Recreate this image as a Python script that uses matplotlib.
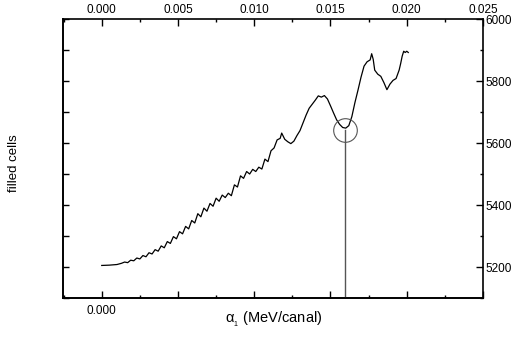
import matplotlib
matplotlib.use("Agg")
import matplotlib.pyplot as plt
from matplotlib.ticker import MultipleLocator, FuncFormatter

plt.rcParams['font.family'] = ['Liberation Sans', 'DejaVu Sans']
plt.rcParams['mathtext.fontset'] = 'custom'
plt.rcParams['mathtext.rm'] = 'Liberation Sans'
plt.rcParams['mathtext.it'] = 'Liberation Sans'

# donnees
alpha = [0.0000, 0.0005, 0.0010, 0.0013, 0.0015, 0.0017, 0.0019, 0.0021, 0.0023, 0.0025,
         0.0027, 0.0029, 0.0031, 0.0033, 0.0035, 0.0037, 0.0039, 0.0041, 0.0043, 0.0045,
         0.0047, 0.0049, 0.0051, 0.0053, 0.0055, 0.0057, 0.0059, 0.0061, 0.0063, 0.0065,
         0.0067, 0.0069, 0.0071, 0.0073, 0.0075, 0.0077, 0.0079, 0.0081, 0.0083, 0.0085,
         0.0087, 0.0089, 0.0091, 0.0093, 0.0095, 0.0097, 0.0099, 0.0101, 0.0103, 0.0105,
         0.0107, 0.0109, 0.0111, 0.0113, 0.0115, 0.0117, 0.0118, 0.0120, 0.0122, 0.0124,
         0.0126, 0.0128, 0.0130, 0.0132, 0.0134, 0.0136, 0.0138, 0.0140, 0.0142, 0.0144,
         0.0146, 0.0148, 0.0150, 0.0152, 0.0154, 0.0156, 0.0158, 0.0160, 0.0162, 0.0164,
         0.0166, 0.0168, 0.0170, 0.0172, 0.0174, 0.0176, 0.0177, 0.0178, 0.0179, 0.0181,
         0.0183, 0.0185, 0.0187, 0.0189, 0.0191, 0.0193, 0.0195, 0.0196, 0.0197, 0.0198,
         0.0199, 0.0200, 0.0201]
cells = [5205, 5206, 5208, 5212, 5216, 5214, 5222, 5220, 5229, 5226,
         5237, 5233, 5246, 5242, 5256, 5251, 5268, 5262, 5282, 5276,
         5298, 5291, 5314, 5307, 5331, 5323, 5350, 5342, 5372, 5362,
         5390, 5380, 5405, 5396, 5422, 5412, 5432, 5424, 5438, 5430,
         5465, 5458, 5494, 5486, 5508, 5500, 5515, 5508, 5522, 5516,
         5548, 5540, 5575, 5584, 5610, 5615, 5632, 5612, 5604, 5598,
         5606, 5624, 5640, 5665, 5690, 5712, 5725, 5738, 5752, 5748,
         5753, 5742, 5720, 5697, 5675, 5660, 5650, 5648, 5656, 5685,
         5730, 5770, 5812, 5848, 5862, 5868, 5888, 5870, 5835, 5822,
         5815, 5795, 5772, 5790, 5802, 5808, 5835, 5856, 5880, 5896,
         5892, 5896, 5892]

alpha_min = 0.01594
cells_min = 5643

fig = plt.figure(figsize=(5.14, 3.47), dpi=100)
ax = fig.add_axes([63/514, 1-298/347, 420/514, 279/347])

ax.plot(alpha, cells, color='black', lw=0.9)
ax.plot([alpha_min, alpha_min], [cells_min, 5100], color='#555555', lw=1.0)
ax.plot([alpha_min], [cells_min], 'o', ms=17, mfc='none', mec='#555555', mew=0.8)

ax.set_xlim(-0.00254, 0.025)
ax.set_ylim(5100, 6000)

# axe du haut et de droite
ax.xaxis.set_major_locator(MultipleLocator(0.005))
ax.xaxis.set_minor_locator(MultipleLocator(0.0025))
ax.xaxis.set_major_formatter(FuncFormatter(lambda v, p: f"{v:.3f}"))
ax.yaxis.set_major_locator(MultipleLocator(200))
ax.yaxis.set_minor_locator(MultipleLocator(100))
ax.tick_params(which='both', direction='in', top=True, labeltop=True, bottom=False,
               labelbottom=False, right=True, labelright=True, left=False, labelleft=False,
               labelsize=8.5, width=1, pad=2)
ax.tick_params(which='major', length=5)
ax.tick_params(which='minor', length=2.5)

# axe du bas : seulement 0.000
bx = ax.secondary_xaxis('bottom')
bx.xaxis.set_major_locator(MultipleLocator(0.005))
bx.xaxis.set_minor_locator(MultipleLocator(0.0025))
bx.xaxis.set_major_formatter(FuncFormatter(lambda v, p: "0.000" if abs(v) < 1e-9 else ""))
bx.tick_params(which='both', direction='in', labelsize=8.5, width=1, pad=5)
bx.tick_params(which='major', length=5)
bx.tick_params(which='minor', length=2.5)

# axe de gauche : ticks sans etiquettes
lx = ax.secondary_yaxis('left')
lx.yaxis.set_major_locator(MultipleLocator(100))
lx.tick_params(direction='in', length=4, width=1, labelleft=False)

for s in ax.spines.values():
    s.set_linewidth(1.2)
bx.spines['bottom'].set_linewidth(1.2)
lx.spines['left'].set_linewidth(1.2)

fig.text(14/514, 1-163/347, "filled cells", rotation=90, ha='center', va='center', fontsize=9.5)
fig.text(274/514, 1-319/347, r"$\mathregular{\alpha_{_1}}$ (MeV/canal)", ha='center', va='center',
         fontsize=10.5)

fig.savefig("out.png", dpi=100)
